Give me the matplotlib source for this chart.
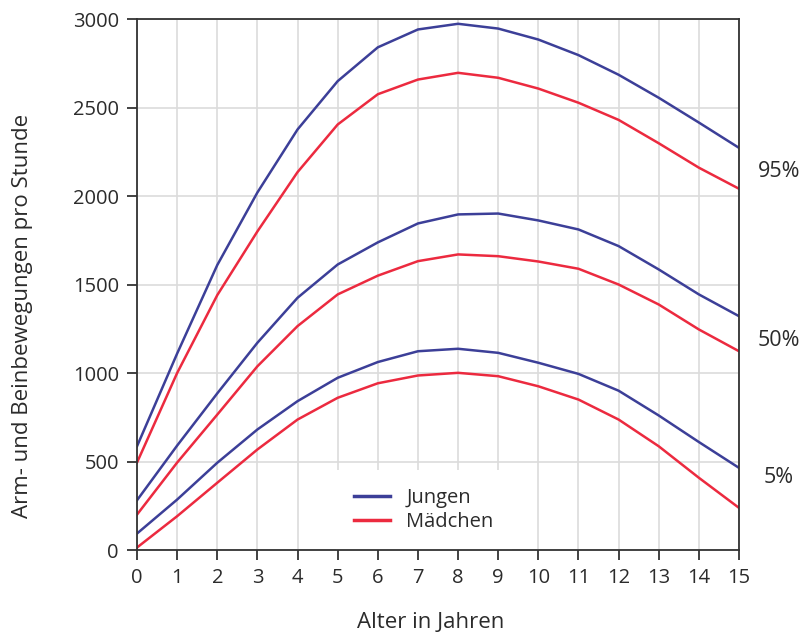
import matplotlib
matplotlib.use("Agg")
import matplotlib.pyplot as plt

# Alter in Jahren
alter = list(range(0, 16))

# Perzentilen, Arm- und Beinbewegungen pro Stunde
jungen_95 = [586, 1110, 1610, 2020, 2376, 2649, 2840, 2941, 2973, 2946, 2884, 2796, 2685, 2555, 2415, 2272]
maedchen_95 = [494, 1000, 1440, 1800, 2135, 2404, 2575, 2658, 2696, 2668, 2607, 2527, 2430, 2298, 2160, 2041]
jungen_50 = [281, 590, 885, 1171, 1425, 1613, 1738, 1845, 1896, 1901, 1862, 1811, 1717, 1585, 1444, 1321]
maedchen_50 = [200, 494, 765, 1038, 1265, 1444, 1550, 1632, 1670, 1660, 1630, 1589, 1500, 1387, 1246, 1123]
jungen_5 = [93, 285, 493, 681, 841, 973, 1062, 1123, 1137, 1114, 1058, 995, 900, 760, 610, 464]
maedchen_5 = [14, 191, 380, 568, 737, 860, 942, 986, 1001, 982, 925, 850, 737, 586, 408, 238]

perzentil_labels = ["95%", "50%", "5%"]
perzentil_pos = [2136, 1181, 407]

blau = "#3c3f98"
rot = "#ec2a3f"
txt = "#2b2b2b"

plt.rcParams['font.family'] = ['Open Sans', 'DejaVu Sans']

fig = plt.figure(figsize=(8.04, 6.36), dpi=100)
ax = fig.add_axes([0.1704, 0.1352, 0.7488, 0.8349])

ax.plot(alter, jungen_95, color=blau, lw=1.8, label="Jungen")
ax.plot(alter, maedchen_95, color=rot, lw=1.8, label="Mädchen")
ax.plot(alter, jungen_50, color=blau, lw=1.8)
ax.plot(alter, maedchen_50, color=rot, lw=1.8)
ax.plot(alter, jungen_5, color=blau, lw=1.8)
ax.plot(alter, maedchen_5, color=rot, lw=1.8)

ax.set_xlim(0, 15)
ax.set_ylim(0, 3000)
ax.set_xticks(alter)
ax.set_yticks(range(0, 3001, 500))
ax.grid(True, color="#dcdcdc", lw=1.2)
ax.set_axisbelow(True)

for s in ax.spines.values():
    s.set_color("#333333")
    s.set_linewidth(1.3)

ax.tick_params(axis='both', direction='out', length=7, width=1.3, color="#333333",
               labelsize=14.5, labelcolor=txt)
ax.tick_params(axis='x', pad=6)
ax.tick_params(axis='y', pad=6)

ax.set_xlabel("Alter in Jahren", fontsize=16, color=txt)
ax.set_ylabel("Arm- und Beinbewegungen pro Stunde", fontsize=16, color=txt)
ax.xaxis.set_label_coords(0.488, -0.136)
ax.xaxis.label.set_va('center')
ax.yaxis.set_label_coords(-0.191, 0.44)
ax.yaxis.label.set_va('center')

for lab, y in zip(perzentil_labels, perzentil_pos):
    ax.text(16.0, y, lab, fontsize=15.5, color=txt, ha='center', va='center', clip_on=False)

leg = ax.legend(loc='lower left', bbox_to_anchor=(0.33, 0.0), fontsize=14.5,
                frameon=True, fancybox=False, framealpha=1, edgecolor='none',
                facecolor='white', handlelength=1.8, handletextpad=0.8,
                borderpad=0.9, labelspacing=0.2, borderaxespad=0.0)
leg.set_zorder(2.1)
for t in leg.get_texts():
    t.set_color(txt)
for l in leg.get_lines():
    l.set_linewidth(2.5)

fig.savefig("out.png", dpi=100)
